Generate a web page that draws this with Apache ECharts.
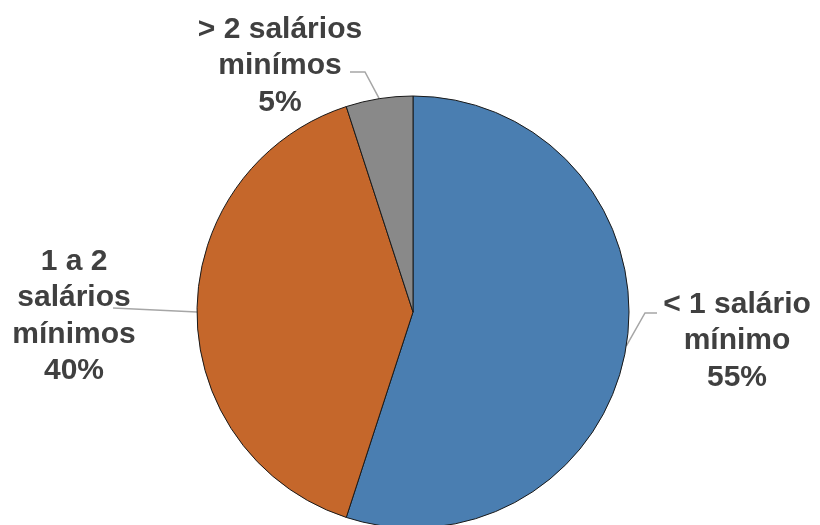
<!DOCTYPE html>
<html>
<head>
<meta charset="utf-8">
<script src="https://cdn.jsdelivr.net/npm/echarts@6/dist/echarts.min.js"></script>
<style>
  html, body { margin: 0; padding: 0; background: #fff; }
  #chart { width: 820px; height: 525px; }
</style>
</head>
<body>
<div id="chart"></div>
<script>
// Faixas de renda (salários mínimos) e participação percentual
const categories = ['< 1 salário\nmínimo', '1 a 2\nsalários\nmínimos', '> 2 salários\nminímos'];
const shares = [55, 40, 5];
const colors = ['#4A7EB1', '#C5672B', '#898989'];

// Label block centres and elbow points for each slice's leader line
const labelPlacement = [
  { x: 737, y: 341, line: (s) => [s, [645, 313], [657, 313]] },
  { x: 74,  y: 316, line: (s) => [s, [113, 308]] },
  { x: 280, y: 66,  line: (s) => [s, [365, 72], [350, 72]] }
];

const chart = echarts.init(document.getElementById('chart'), null, { renderer: 'canvas' });

chart.setOption({
  animation: false,
  backgroundColor: '#ffffff',
  series: [{
    type: 'pie',
    center: [413, 312],
    radius: 216,
    startAngle: 90,
    clockwise: true,
    avoidLabelOverlap: false,
    data: categories.map((name, i) => ({
      name: name,
      value: shares[i],
      itemStyle: { color: colors[i] }
    })),
    itemStyle: { borderColor: '#1a1a1a', borderWidth: 1 },
    label: {
      show: true,
      formatter: '{b}\n{c}%',
      fontFamily: '"Liberation Sans", Arial, sans-serif',
      fontWeight: 'bold',
      fontSize: 30,
      lineHeight: 36.5,
      color: '#404040',
      align: 'center',
      overflow: 'none'
    },
    labelLine: {
      show: true,
      lineStyle: { color: '#A6A6A6', width: 1.5 }
    },
    labelLayout: function (params) {
      const p = labelPlacement[params.dataIndex];
      const start = params.labelLinePoints ? params.labelLinePoints[0] : [p.x, p.y];
      return {
        x: p.x,
        y: p.y,
        align: 'center',
        verticalAlign: 'middle',
        labelLinePoints: p.line(start)
      };
    },
    emphasis: { disabled: true }
  }]
});
</script>
</body>
</html>
